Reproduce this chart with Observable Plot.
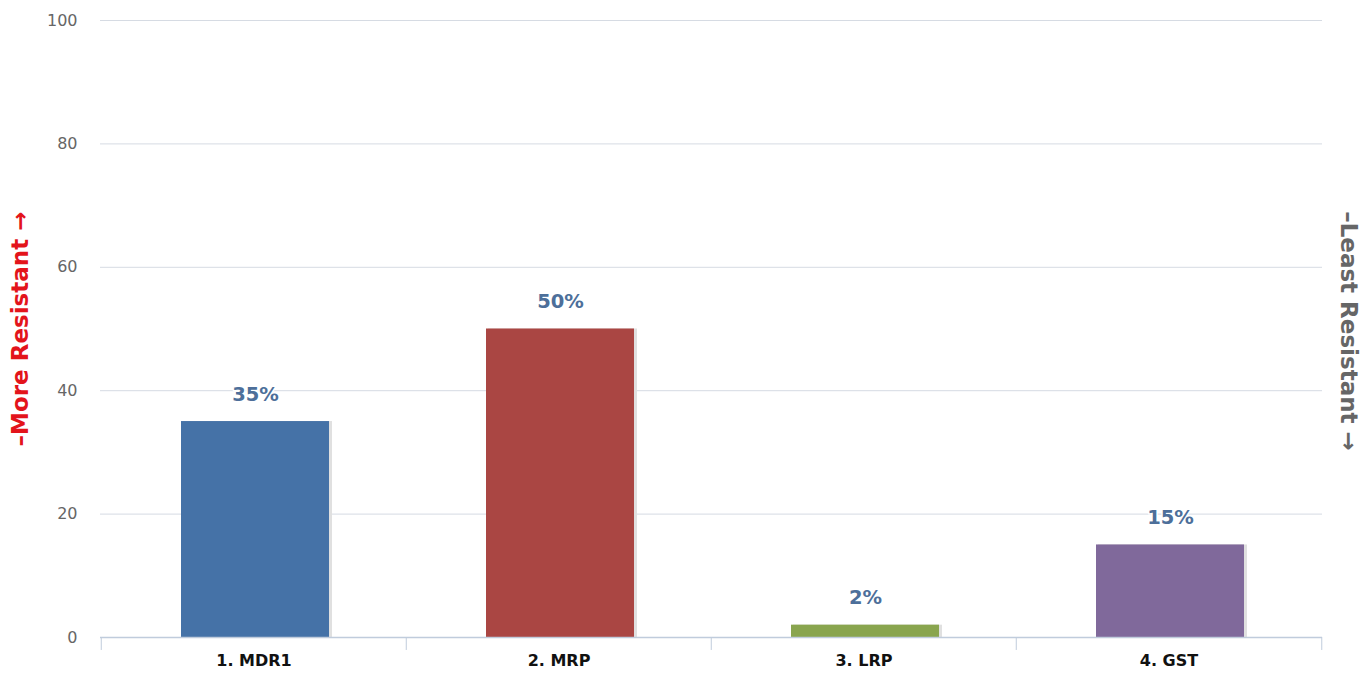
<!DOCTYPE html>
<html>
<head>
<meta charset="utf-8">
<script src="https://cdn.jsdelivr.net/npm/d3@7"></script>
<script src="https://cdn.jsdelivr.net/npm/@observablehq/plot@0.6"></script>
<style>
  html, body { margin: 0; padding: 0; background: #fff; }
  #chart svg { display: block; }
</style>
</head>
<body>
<div id="chart"></div>
<script>
const categories = ["1. MDR1", "2. MRP", "3. LRP", "4. GST"];
const values = [35, 50, 2, 15];
const barColors = ["#4572A7", "#AA4643", "#89A54E", "#80699B"];
const yTicks = [0, 20, 40, 60, 80, 100];
const leftTitle = "–More Resistant →";
const rightTitle = "–Least Resistant →";

const data = categories.map((c, i) => ({category: c, value: values[i], color: barColors[i]}));
// band boundaries: left edge of each band plus right edge of the last
const boundaries = categories.map(c => ({category: c, side: -1})).concat([{category: categories[categories.length - 1], side: 1}]);

const halfBand = (1370 - 100 - 48) / categories.length / 2;

const chart = Plot.plot({
  width: 1370,
  height: 673,
  marginLeft: 100,
  marginRight: 48,
  marginTop: 20,
  marginBottom: 36,
  style: {fontFamily: "DejaVu Sans", background: "#fff"},
  x: {domain: categories, paddingInner: 0, paddingOuter: 0, axis: null},
  y: {domain: [0, 100], axis: null},
  marks: [
    Plot.ruleY(yTicks.slice(1), {stroke: "#d6dbe3", strokeWidth: 1}),
    Plot.text(yTicks, {y: d => d, frameAnchor: "left", dx: -23, textAnchor: "end", text: d => String(d), fill: "#666", fontSize: 16}),
    // bar shadows
    Plot.barY(data, {x: "category", y: "value", fill: "#e0e0e0", insetLeft: 82, insetRight: 74}),
    Plot.barY(data, {x: "category", y: "value", fill: "color", insetLeft: 80, insetRight: 77}),
    Plot.ruleY([0], {stroke: "#c0ccdc", strokeWidth: 1.5}),
    ...boundaries.map(b => Plot.ruleX([b], {x: "category", y1: 0, y2: -2.1, dx: b.side * halfBand, stroke: "#c0ccdc", strokeWidth: 1})),
    Plot.axisX({tickSize: 0, tickPadding: 17, fontSize: 16, fontWeight: "bold", fill: "#111", label: null}),
    Plot.text(data, {x: "category", y: "value", text: d => d.value + "%", dy: -27, dx: 1.5, fill: "#4d6f9a", fontSize: 19.5, fontWeight: "bold", stroke: "white", strokeWidth: 3, paintOrder: "stroke"}),
    Plot.text([leftTitle], {frameAnchor: "left", dx: -80, dy: 0, textAnchor: "middle", rotate: -90, text: d => d, fill: "#e3141b", fontSize: 23, fontWeight: "bold"}),
    Plot.text([rightTitle], {frameAnchor: "right", dx: 26, dy: 2, textAnchor: "middle", rotate: 90, text: d => d, fill: "#666", fontSize: 23, fontWeight: "bold"})
  ]
});

document.getElementById("chart").appendChild(chart);
</script>
</body>
</html>
